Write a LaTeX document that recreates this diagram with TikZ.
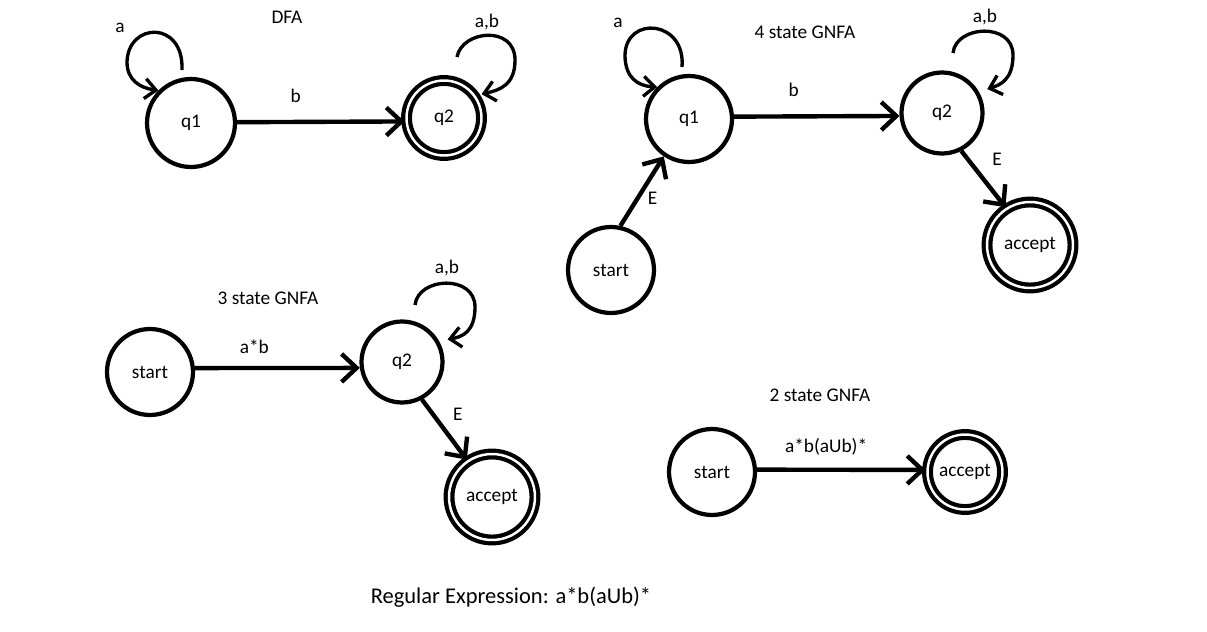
\documentclass[tikz,border=0pt]{standalone}
\usepackage{fontspec}
\setmainfont{Carlito}
\usetikzlibrary{arrows.meta, positioning, calc}

\begin{document}
\begin{tikzpicture}[
    x=0.02cm, y=-0.02cm,
    state/.style={circle, draw, line width=2.4pt, minimum size=1.72cm, inner sep=0pt,
                  font=\fontsize{11}{13}\selectfont},
    final/.style={state, double, double distance=1.4pt},
    arr/.style={line width=2.5pt, -{Straight Barb[length=3mm, width=5.6mm]}},
    loopline/.style={line width=1.9pt, -{Straight Barb[length=2.2mm, width=4mm]}},
    lbl/.style={font=\fontsize{11}{13}\selectfont, inner sep=0pt}
]
\path[fill=white, use as bounding box] (0,0) rectangle (1207,632);

% DFA
\node[lbl] (titledfa) at (287,17) {DFA};
\node[state, minimum size=1.76cm] (q1dfa) at (191,123) {q1};
\node[final, minimum size=1.5cm] (q2dfa) at (444,118) {q2};
\coordinate (loopq1dfa) at (182,70);
\coordinate (loopq2dfa) at (457,57);
\node[lbl] (aq1dfa) at (120,28) {a};
\node[lbl] (abq2dfa) at (487,22) {a,b};

\draw[loopline] (loopq1dfa) .. controls (184,20) and (128,22) .. (127,62)
    .. controls (127,80) and (140,88) .. (q1dfa.135);
\draw[loopline, shorten >=3pt] (loopq2dfa) .. controls (462,30) and (515,25) .. (515,60)
    .. controls (515,85) and (500,90) .. (q2dfa.35);
\draw[arr] (q1dfa.1) -- (q2dfa.185)
    node[lbl, pos=0.35, yshift=15pt] {b};

% 4 state GNFA
\node[lbl] (titlefour) at (805,32) {4 state GNFA};
\node[state] (q1four) at (689,119) {q1};
\node[state, minimum size=1.62cm] (q2four) at (942,113) {q2};
\node[state] (startfour) at (611,270) {start};
\node[final, minimum size=1.72cm] (acceptfour) at (1030,245) {accept};
\coordinate (loopq1four) at (682,67);
\coordinate (loopq2four) at (953,53);
\node[lbl] (aq1four) at (618,23) {a};
\node[lbl] (abq2four) at (985,17) {a,b};

\draw[loopline] (loopq1four) .. controls (686,20) and (626,15) .. (625,55)
    .. controls (625,78) and (638,86) .. (q1four.135);
\draw[loopline, shorten >=5pt] (loopq2four) .. controls (956,25) and (1013,22) .. (1013,55)
    .. controls (1013,80) and (1000,85) .. (q2four.30);
\draw[arr] (q1four.3) -- (q2four.184)
    node[lbl, pos=0.36, yshift=15pt] {b};
\draw[arr] (startfour.78) -- (q1four.236)
    node[lbl, midway, xshift=6pt, yshift=-4pt] {E};
\draw[arr] (q2four.297) -- (acceptfour.123)
    node[lbl, pos=0.25, xshift=14pt, yshift=3pt] {E};

% 3 state GNFA
\node[lbl] (titlethree) at (268,298) {3 state GNFA};
\node[state] (startthree) at (150,372) {start};
\node[state, minimum size=1.62cm] (q2three) at (402,362) {q2};
\node[final, minimum size=1.72cm] (acceptthree) at (492,497) {accept};
\coordinate (loopq2three) at (415,305);
\node[lbl] (abq2three) at (447,268) {a,b};

\draw[loopline, shorten >=5pt] (loopq2three) .. controls (418,277) and (475,274) .. (475,307)
    .. controls (475,332) and (462,337) .. (q2three.30);
\draw[arr] (startthree.5) -- (q2three.188)
    node[lbl, pos=0.36, yshift=12pt] {a*b};
\draw[arr] (q2three.298) -- (acceptthree.124)
    node[lbl, pos=0.25, xshift=14pt, yshift=0pt] {E};

% 2 state GNFA
\node[lbl] (titletwo) at (820,395) {2 state GNFA};
\node[state] (starttwo) at (712,472) {start};
\node[final, minimum size=1.5cm] (accepttwo) at (965,472) {accept};

\draw[arr] (starttwo.3) -- (accepttwo.177)
    node[lbl, pos=0.41, yshift=13pt] {a*b(aUb)*};

% Result
\node[font=\fontsize{12.8}{15}\selectfont, inner sep=0pt] (regex) at (511,597)
    {Regular Expression: a*b(aUb)*};

\end{tikzpicture}
\end{document}
